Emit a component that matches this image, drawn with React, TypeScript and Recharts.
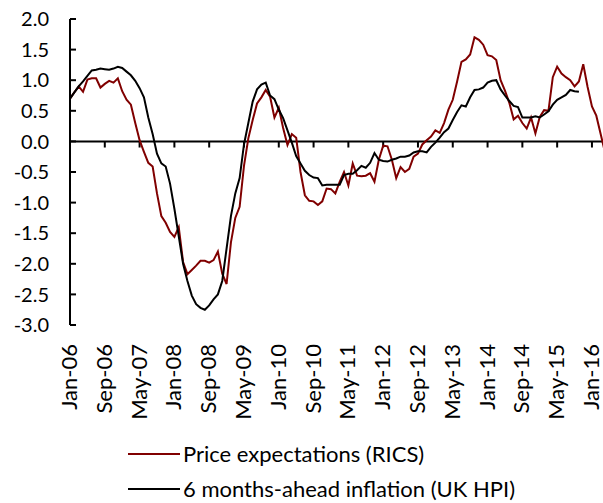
import { LineChart, Line, XAxis, YAxis, ReferenceLine, Legend } from 'recharts'

const MONTH_NAMES = ['Jan', 'Feb', 'Mar', 'Apr', 'May', 'Jun', 'Jul', 'Aug', 'Sep', 'Oct', 'Nov', 'Dec']
const YEARS = ['06', '07', '08', '09', '10', '11', '12', '13', '14', '15', '16']

// Jan-06 .. Apr-16
const MONTHS: string[] = YEARS.flatMap((yr) => MONTH_NAMES.map((m) => `${m}-${yr}`)).slice(0, 124)

const TICK_LABELS = [
  'Jan-06', 'Sep-06', 'May-07', 'Jan-08', 'Sep-08', 'May-09', 'Jan-10', 'Sep-10',
  'May-11', 'Jan-12', 'Sep-12', 'May-13', 'Jan-14', 'Sep-14', 'May-15', 'Jan-16',
]

const Y_TICKS = [-3, -2.5, -2, -1.5, -1, -0.5, 0, 0.5, 1, 1.5, 2]

// Price expectations (RICS), standardised
const RICS = [
  0.70, 0.80, 0.90, 0.81, 1.01, 1.03, 1.03, 0.88, 0.94, 0.99, 0.96, 1.03,
  0.82, 0.68, 0.60, 0.30, 0.02, -0.17, -0.35, -0.41, -0.85, -1.22, -1.33, -1.48,
  -1.56, -1.40, -1.97, -2.17, -2.10, -2.03, -1.95, -1.95, -1.98, -1.94, -1.80, -2.16,
  -2.33, -1.65, -1.25, -1.07, -0.40, 0.05, 0.35, 0.62, 0.72, 0.84, 0.73, 0.39,
  0.55, 0.22, -0.06, 0.12, 0.06, -0.50, -0.88, -0.97, -0.98, -1.04, -0.98, -0.77,
  -0.78, -0.85, -0.66, -0.50, -0.72, -0.36, -0.56, -0.57, -0.56, -0.52, -0.66, -0.30,
  -0.07, -0.08, -0.30, -0.60, -0.42, -0.50, -0.45, -0.25, -0.20, -0.05, 0.02, 0.08,
  0.18, 0.14, 0.30, 0.52, 0.68, 0.98, 1.30, 1.34, 1.42, 1.70, 1.66, 1.58,
  1.41, 1.39, 1.33, 1.00, 0.83, 0.63, 0.36, 0.42, 0.30, 0.21, 0.39, 0.13,
  0.40, 0.51, 0.50, 1.05, 1.22, 1.11, 1.05, 1.00, 0.90, 0.98, 1.26, 0.89,
  0.57, 0.42, 0.12, -0.18,
]

// 6 months-ahead inflation (UK HPI), standardised; ends Oct-15
const HPI = [
  0.70, 0.80, 0.90, 0.98, 1.07, 1.16, 1.17, 1.19, 1.18, 1.17, 1.19, 1.22,
  1.20, 1.14, 1.08, 0.99, 0.87, 0.72, 0.39, 0.12, -0.20, -0.36, -0.41, -0.69,
  -1.10, -1.55, -2.00, -2.28, -2.52, -2.66, -2.72, -2.75, -2.68, -2.58, -2.50, -2.28,
  -1.75, -1.22, -0.85, -0.60, -0.05, 0.30, 0.65, 0.85, 0.93, 0.96, 0.75, 0.69,
  0.52, 0.38, 0.18, -0.02, -0.24, -0.36, -0.48, -0.55, -0.59, -0.60, -0.72, -0.71,
  -0.71, -0.71, -0.71, -0.55, -0.53, -0.53, -0.47, -0.40, -0.43, -0.35, -0.19, -0.30,
  -0.32, -0.33, -0.30, -0.28, -0.25, -0.25, -0.23, -0.18, -0.16, -0.16, -0.18, -0.09,
  -0.02, 0.06, 0.15, 0.21, 0.35, 0.48, 0.59, 0.57, 0.72, 0.84, 0.85, 0.88,
  0.96, 0.99, 1.00, 0.85, 0.75, 0.66, 0.58, 0.56, 0.39, 0.39, 0.39, 0.41,
  0.39, 0.44, 0.49, 0.60, 0.68, 0.72, 0.76, 0.84, 0.82, 0.81,
]

const SERIES = [
  { key: 'rics', name: 'Price expectations (RICS)', color: '#800000' },
  { key: 'hpi', name: '6 months-ahead inflation (UK HPI)', color: '#000000' },
]

const data = MONTHS.map((m, i) => ({
  month: m,
  rics: RICS[i] ?? null,
  hpi: HPI[i] ?? null,
}))

const FONT = 'Lato, "DejaVu Sans", sans-serif'

function XTick({ x, y, payload }: any) {
  return (
    <text
      transform={`translate(${x + 7},${y + 19}) rotate(-90)`}
      textAnchor="end"
      fontFamily={FONT}
      fontSize={22}
      fill="#000"
    >
      {payload.value}
    </text>
  )
}

function YTick({ x, y, payload }: any) {
  return (
    <g>
      <line x1={x} x2={x + 6} y1={y} y2={y} stroke="#000" strokeWidth={2} />
      <text x={x - 21} y={y} dy="0.36em" textAnchor="end" fontFamily={FONT} fontSize={20} fill="#000">
        {Number(payload.value).toFixed(1)}
      </text>
    </g>
  )
}

function LegendRows() {
  return (
    <div style={{ position: 'relative', height: 88, fontFamily: FONT, fontSize: 22, color: '#000' }}>
      {SERIES.map((s, i) => (
        <div
          key={s.key}
          style={{ position: 'absolute', left: 128, top: 25 + i * 35, display: 'flex', alignItems: 'center', whiteSpace: 'nowrap' }}
        >
          <svg width={52} height={4} style={{ marginRight: 3 }}>
            <line x1={0} x2={52} y1={2} y2={2} stroke={s.color} strokeWidth={2} />
          </svg>
          <span>{s.name}</span>
        </div>
      ))}
    </div>
  )
}

export default function App() {
  return (
    <div style={{ position: 'absolute', left: 0, top: 0 }}>
      <style>{'body{margin:0;overflow:hidden;background:#fff}'}</style>
      <LineChart width={605} height={503} data={data} margin={{ top: 19, right: 0, left: 0, bottom: 0 }}>
        <XAxis
          dataKey="month"
          interval={7}
          axisLine={false}
          tickLine={false}
          tickSize={0}
          tickMargin={0}
          height={90}
          tick={<XTick />}
        />
        <YAxis
          domain={[-3, 2]}
          ticks={Y_TICKS}
          width={70}
          tickLine={false}
          tickSize={0}
          tickMargin={0}
          axisLine={{ stroke: '#000', strokeWidth: 2 }}
          tick={<YTick />}
          allowDataOverflow
        />
        <ReferenceLine y={0} stroke="#000" strokeWidth={2} />
        {TICK_LABELS.map((lbl) => (
          <ReferenceLine
            key={lbl}
            segment={[{ x: lbl, y: 0 }, { x: lbl, y: -0.1 }]}
            stroke="#000"
            strokeWidth={2}
          />
        ))}
        {SERIES.map((s) => (
          <Line
            key={s.key}
            dataKey={s.key}
            name={s.name}
            stroke={s.color}
            strokeWidth={2}
            dot={false}
            isAnimationActive={false}
            connectNulls={false}
          />
        ))}
        <Legend verticalAlign="bottom" height={88} content={<LegendRows />} />
      </LineChart>
    </div>
  )
}
